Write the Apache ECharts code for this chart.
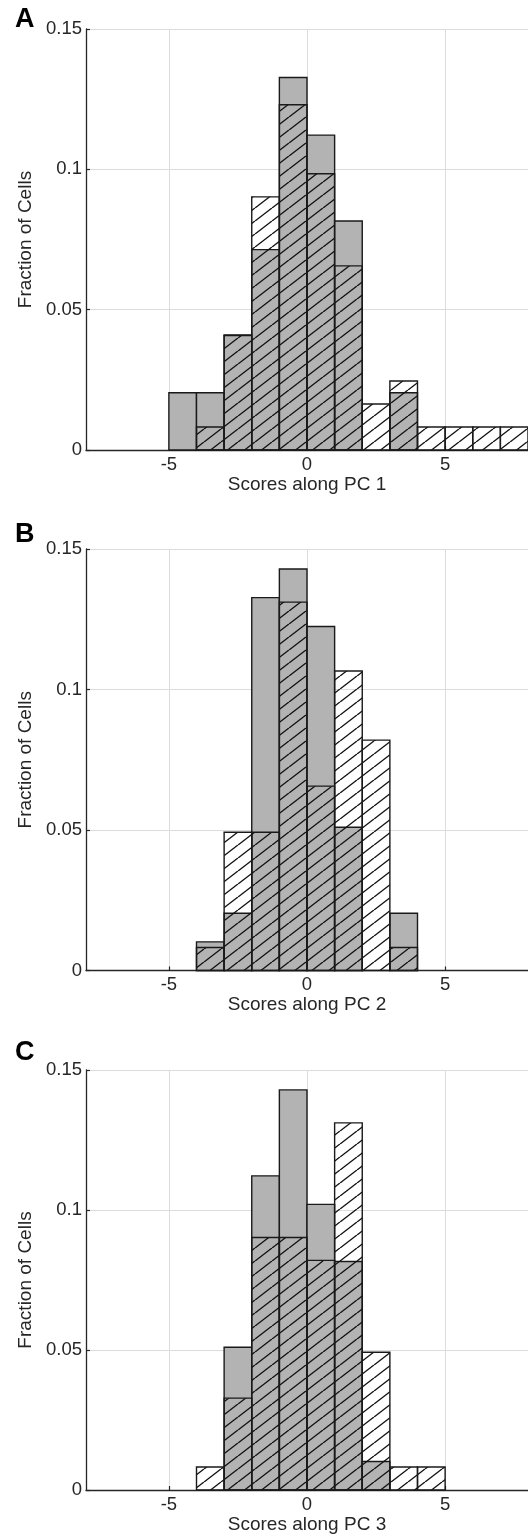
<!DOCTYPE html>
<html>
<head>
<meta charset="utf-8">
<title>Scores along PC 1-3</title>
<script src="https://cdn.jsdelivr.net/npm/echarts@6.0.0/dist/echarts.min.js"></script>
<style>
  html, body { margin: 0; padding: 0; background: #fff; }
  #chart { width: 528px; height: 1540px; }
</style>
</head>
<body>
<div id="chart"></div>
<script>
// left edge of every 1-unit bin
const binStarts = [-5, -4, -3, -2, -1, 0, 1, 2, 3, 4, 5, 6, 7]
const panelLetters = ['A', 'B', 'C']
const xNames = ['Scores along PC 1', 'Scores along PC 2', 'Scores along PC 3']
const xTicks = [-5, 0, 5]

// solid gray histograms
const grayA = [0.0204, 0.0204, 0.0408, 0.0714, 0.1327, 0.1122, 0.0816, 0, 0.0204, 0, 0, 0, 0]
const grayB = [0, 0.0102, 0.0204, 0.1327, 0.1429, 0.1224, 0.0510, 0, 0.0204, 0, 0, 0, 0]
const grayC = [0, 0, 0.0510, 0.1122, 0.1429, 0.1020, 0.0816, 0.0102, 0, 0, 0, 0, 0]
// hatched histograms
const hatchA = [0, 0.0082, 0.0410, 0.0902, 0.1230, 0.0984, 0.0656, 0.0164, 0.0246, 0.0082, 0.0082, 0.0082, 0.0082]
const hatchB = [0, 0.0082, 0.0492, 0.0492, 0.1311, 0.0656, 0.1066, 0.0820, 0.0082, 0, 0, 0, 0]
const hatchC = [0, 0.0082, 0.0328, 0.0902, 0.0902, 0.0820, 0.1311, 0.0492, 0.0082, 0.0082, 0, 0, 0]

const grays = [grayA, grayB, grayC]
const hatches = [hatchA, hatchB, hatchC]

// layout of the three plots
const gridTops = [29, 549, 1070]
const gridHeights = [421, 421.5, 420]
const letterTops = [6, 521, 1039]

const font = '"Liberation Sans", Arial, sans-serif'
const ink = '#262626'

// diagonal hatch tile
function makeHatch() {
  const w = 17, h = 13
  const c = document.createElement('canvas')
  c.width = w
  c.height = h
  const g = c.getContext('2d')
  g.strokeStyle = '#111'
  g.lineWidth = 1.35
  for (let k = -1; k <= 1; k++) {
    g.beginPath()
    g.moveTo(k * w, h)
    g.lineTo(k * w + w, 0)
    g.stroke()
  }
  return c
}
const hatchFill = { image: makeHatch(), repeat: 'repeat' }

function toBins(vals) {
  const out = []
  for (let i = 0; i < binStarts.length; i++) {
    if (vals[i] > 0) out.push([binStarts[i], binStarts[i] + 1, vals[i]])
  }
  return out
}

function barItem(fill) {
  return function (params, api) {
    const lo = api.coord([api.value(0), 0])
    const hi = api.coord([api.value(1), api.value(2)])
    return {
      type: 'rect',
      shape: { x: lo[0], y: hi[1], width: hi[0] - lo[0], height: lo[1] - hi[1] },
      style: { fill: fill, stroke: '#1a1a1a', lineWidth: 1.4 }
    }
  }
}

const grid = [], xAxis = [], yAxis = [], series = [], graphic = []
for (let i = 0; i < 3; i++) {
  grid.push({ left: 86, right: -1, top: gridTops[i], height: gridHeights[i] })
  xAxis.push({
    gridIndex: i, type: 'value', min: -8, max: 8,
    name: xNames[i], nameLocation: 'middle', nameGap: 25,
    nameTextStyle: { fontFamily: font, fontSize: 19, color: ink },
    axisLine: { show: true, onZero: false, lineStyle: { color: ink, width: 1.3 } },
    axisTick: { show: true, inside: true, length: 4, customValues: xTicks, lineStyle: { color: ink, width: 1.2 } },
    axisLabel: { customValues: xTicks, margin: 5, fontFamily: font, fontSize: 18.5, color: ink },
    splitLine: { show: true, lineStyle: { color: '#dcdcdc', width: 1 } }
  })
  yAxis.push({
    gridIndex: i, type: 'value', min: 0, max: 0.15, interval: 0.05,
    name: 'Fraction of Cells', nameLocation: 'middle', nameGap: 43,
    nameTextStyle: { fontFamily: font, fontSize: 19, color: ink },
    axisLine: { show: true, onZero: false, lineStyle: { color: ink, width: 1.3 } },
    axisTick: { show: true, inside: true, length: 4, lineStyle: { color: ink, width: 1.2 } },
    axisLabel: { margin: 4, fontFamily: font, fontSize: 18.5, color: ink },
    splitLine: { show: true, lineStyle: { color: '#dcdcdc', width: 1 } }
  })
  series.push({
    type: 'custom', xAxisIndex: i, yAxisIndex: i,
    renderItem: barItem('#b3b3b3'),
    encode: { x: [0, 1], y: 2 },
    data: toBins(grays[i])
  })
  series.push({
    type: 'custom', xAxisIndex: i, yAxisIndex: i,
    renderItem: barItem(hatchFill),
    encode: { x: [0, 1], y: 2 },
    data: toBins(hatches[i])
  })
  graphic.push({
    type: 'text', left: 15, top: letterTops[i],
    style: { text: panelLetters[i], font: 'bold 27px ' + font, fill: '#000' }
  })
}

const myChart = echarts.init(document.getElementById('chart'))
myChart.setOption({
  animation: false,
  backgroundColor: '#fff',
  grid: grid,
  xAxis: xAxis,
  yAxis: yAxis,
  series: series,
  graphic: graphic
})
window.onresize = myChart.resize
</script>
</body>
</html>
